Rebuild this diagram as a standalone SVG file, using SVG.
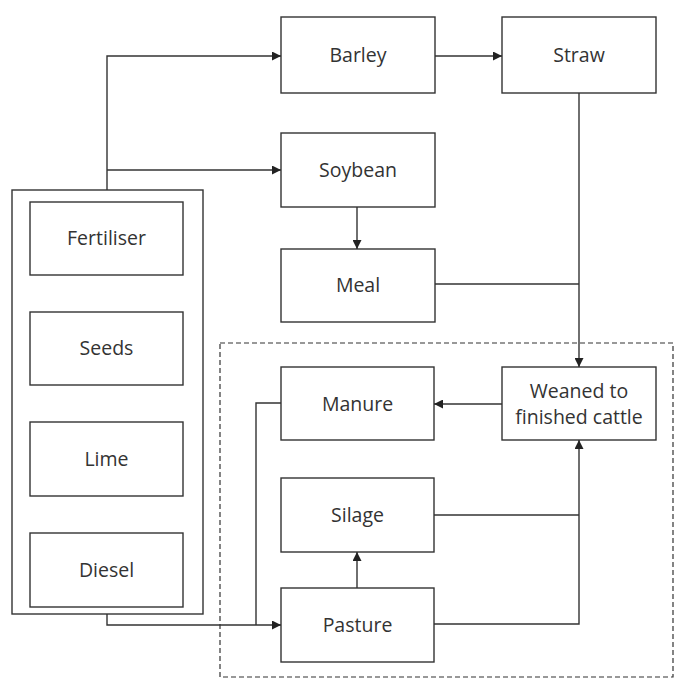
<svg xmlns="http://www.w3.org/2000/svg" width="685" height="687" viewBox="0 0 685 687">
<style>
.box{fill:#fff;stroke:#333;stroke-width:1.4}
.t{font-family:"Open Sans","Liberation Sans",sans-serif;font-size:19.5px;fill:#333;text-anchor:middle}
.c{fill:none;stroke:#333;stroke-width:1.4}
</style>
<defs>
<marker id="a" viewBox="0 0 10 10" refX="10" refY="5" markerWidth="9" markerHeight="9" markerUnits="userSpaceOnUse" orient="auto">
<path d="M0,0 L10,5 L0,10 Z" fill="#222"/>
</marker>
</defs>
<rect width="685" height="687" fill="#fff"/>
<rect x="220" y="343" width="453" height="334" fill="none" stroke="#333" stroke-width="1.2" stroke-dasharray="5,3"/>
<g id="inputs">
<rect class="box" x="12" y="190" width="191" height="424"/>
</g>
<g id="fertiliser"><rect class="box" x="30" y="202" width="153" height="73"/><text class="t" x="106.5" y="245">Fertiliser</text></g>
<g id="seeds"><rect class="box" x="30" y="312" width="153" height="73"/><text class="t" x="106.5" y="355">Seeds</text></g>
<g id="lime"><rect class="box" x="30" y="422" width="153" height="74"/><text class="t" x="106.5" y="466">Lime</text></g>
<g id="diesel"><rect class="box" x="30" y="533" width="153" height="74"/><text class="t" x="106.5" y="577">Diesel</text></g>
<g id="barley"><rect class="box" x="281" y="17" width="154" height="76"/><text class="t" x="358" y="62">Barley</text></g>
<g id="straw"><rect class="box" x="502" y="17" width="154" height="76"/><text class="t" x="579" y="62">Straw</text></g>
<g id="soybean"><rect class="box" x="281" y="133" width="154" height="74"/><text class="t" x="358" y="177">Soybean</text></g>
<g id="meal"><rect class="box" x="281" y="249" width="154" height="73"/><text class="t" x="358" y="292">Meal</text></g>
<g id="weaned"><rect class="box" x="502" y="367" width="154" height="73"/><text class="t" x="579" y="398">Weaned to</text><text class="t" x="579" y="424">finished cattle</text></g>
<g id="manure"><rect class="box" x="281" y="367" width="153" height="73"/><text class="t" x="357.5" y="411">Manure</text></g>
<g id="silage"><rect class="box" x="281" y="478" width="153" height="74"/><text class="t" x="357.5" y="522">Silage</text></g>
<g id="pasture"><rect class="box" x="281" y="588" width="153" height="74"/><text class="t" x="357.5" y="632">Pasture</text></g>
<g id="connectors">
<path class="c" d="M107,190 V56 H281" marker-end="url(#a)"/>
<path class="c" d="M107,170 H281" marker-end="url(#a)"/>
<path class="c" d="M435,56 H502" marker-end="url(#a)"/>
<path class="c" d="M357,207 V249" marker-end="url(#a)"/>
<path class="c" d="M579,93 V367" marker-end="url(#a)"/>
<path class="c" d="M435,284 H579"/>
<path class="c" d="M502,404 H434" marker-end="url(#a)"/>
<path class="c" d="M281,403 H256 V625"/>
<path class="c" d="M107,614 V625 H281" marker-end="url(#a)"/>
<path class="c" d="M357,588 V552" marker-end="url(#a)"/>
<path class="c" d="M434,515 H579"/>
<path class="c" d="M434,624 H579 V440" marker-end="url(#a)"/>
</g>
</svg>
